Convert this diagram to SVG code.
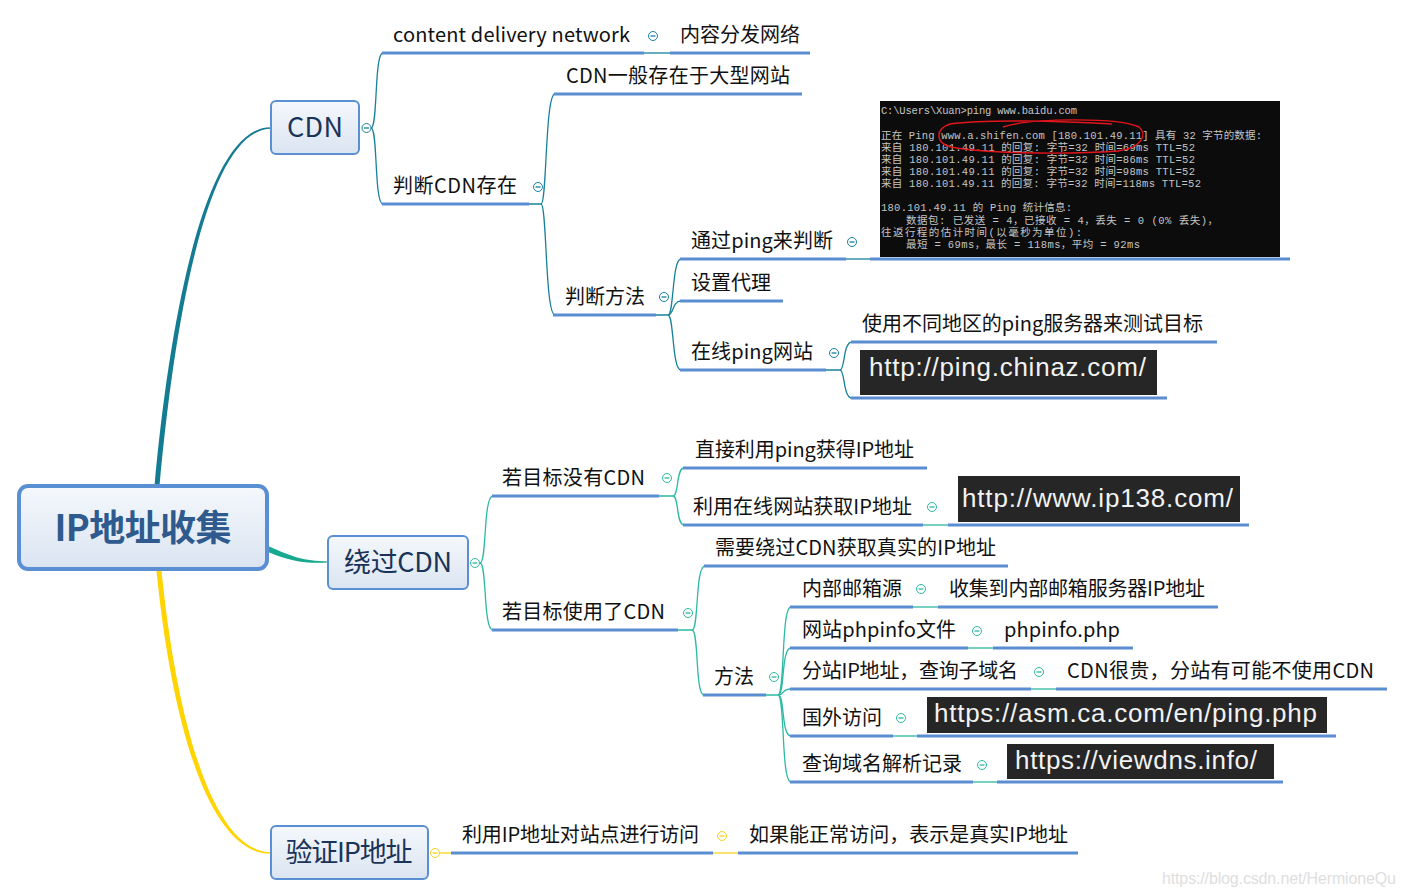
<svg xmlns="http://www.w3.org/2000/svg" width="1405" height="896" viewBox="0 0 1405 896">
<defs>
<linearGradient id="ng" x1="0" y1="0" x2="0" y2="1">
<stop offset="0" stop-color="#f5f8fc"/>
<stop offset="1" stop-color="#dae4f1"/>
</linearGradient>
<style>
.t{font-family:"Noto Sans CJK SC","Noto Sans",sans-serif;font-size:20px;fill:#111}
.n{font-family:"Noto Sans CJK SC","Noto Sans",sans-serif;font-size:27px;fill:#1a3358;text-anchor:middle}
.box{fill:url(#ng);stroke:#5b8fd4;stroke-width:2}
.u{stroke:#5a8dd2;stroke-width:3;fill:none}
.c1{stroke:#17819b;stroke-width:1.3;fill:none}
.c2{stroke:#2db9a3;stroke-width:1.3;fill:none}
.c3{stroke:#f7d31a;stroke-width:1.3;fill:none}
.k1{stroke:#17819b;stroke-width:1;fill:#fff}
.k2{stroke:#2db9a3;stroke-width:1;fill:#fff}
.k3{stroke:#f7d31a;stroke-width:1;fill:#fff}
.url{fill:#262626}
.ut{font-family:"Liberation Sans",Arial,sans-serif;font-size:26px;fill:#f2f2f2}
.con{font-family:"Liberation Mono","Noto Sans CJK SC",monospace;font-size:10.5px;fill:#c4c4c4}
</style>
</defs>
<rect width="1405" height="896" fill="#fff"/>

<g id="connectors">
<!-- main branches -->
<path d="M154.5,486 C169.5,320 205,126.6 271,127.3 L271,128.7 C207,129.6 174.5,321 159.5,486 Z" fill="#137c93"/>
<path d="M268,546 C293,557 303,561 328,561.4 L328,562.6 C302,563.5 290,561 268,552 Z" fill="#17a890"/>
<path d="M156.5,571 C171.5,721 208,854 271,853.7 L271,852.3 C212,851.5 176.5,719 161.5,571 Z" fill="#ffd400"/>
<!-- CDN subtree -->
<path class="c1" d="M371,128 C378,128 374,53 383,53"/>
<path class="c1" d="M371,128 C378,128 374,204 383,204"/>
<path class="c1" d="M644,53 H670"/>
<path class="c1" d="M529,204 H541 C547,204 545,94 555,94"/>
<path class="c1" d="M541,204 C547,204 545,315 555,315"/>
<path class="c1" d="M656,315 H668 C674,315 672,259 681,259"/>
<path class="c1" d="M668,315 C674,315 672,301 681,301"/>
<path class="c1" d="M668,315 C674,315 672,370 681,370"/>
<path class="c1" d="M846,259 H871"/>
<path class="c1" d="M826,370 H840 C845,370 843,342 852,342"/>
<path class="c1" d="M840,370 C845,370 843,398 852,398"/>
<!-- bypass CDN subtree -->
<path class="c2" d="M480,563 C487,563 483,496 493,496"/>
<path class="c2" d="M480,563 C487,563 483,630 493,630"/>
<path class="c2" d="M659,496 H673 C679,496 676,468 684,468"/>
<path class="c2" d="M673,496 C679,496 676,525 684,525"/>
<path class="c2" d="M923,525 H949"/>
<path class="c2" d="M678,630 H692 C699,630 695,566 705,566"/>
<path class="c2" d="M692,630 C699,630 695,695 704,695"/>
<path class="c2" d="M766,695 H778 C785,695 781,607 791,607"/>
<path class="c2" d="M778,695 C785,695 781,648 791,648"/>
<path class="c2" d="M778,695 C785,695 781,689 791,689"/>
<path class="c2" d="M778,695 C785,695 781,736 791,736"/>
<path class="c2" d="M778,695 C785,695 781,782 791,782"/>
<path class="c2" d="M913,607 H938"/>
<path class="c2" d="M968,648 H993"/>
<path class="c2" d="M1031,689 H1056"/>
<path class="c2" d="M893,736 H918"/>
<path class="c2" d="M973,782 H998"/>
<!-- verify subtree -->
<path class="c3" d="M440,853 H452"/>
<path class="c3" d="M713,853 H738"/>
</g>

<g id="root">
<rect x="19" y="486" width="248" height="83" rx="9" fill="url(#ng)" stroke="#5b8fd4" stroke-width="4"/>
<text x="143" y="541" font-family="'Noto Sans CJK SC','Noto Sans',sans-serif" font-size="36" font-weight="700" fill="#2f5a8e" text-anchor="middle" textLength="177">IP地址收集</text>
</g>

<g id="n-cdn">
<rect class="box" x="271" y="101" width="88" height="53" rx="5"/>
<text class="n" x="315" y="137" textLength="56">CDN</text>
<circle class="k1" cx="366.5" cy="128" r="4.5"/><path class="c1" d="M364,128 H369"/>
</g>
<g id="n-cdn-full">
<path class="u" d="M382,53 H644"/>
<text class="t" x="393" y="42" textLength="237">content delivery network</text>
<circle class="k1" cx="653" cy="36" r="4.5"/><path class="c1" d="M650.5,36 H655.5"/>
</g>
<g id="n-cdn-def">
<path class="u" d="M670,53 H810"/>
<text class="t" x="680" y="42">内容分发网络</text>
</g>
<g id="n-judge">
<path class="u" d="M382,204 H529"/>
<text class="t" x="393" y="193" textLength="124">判断CDN存在</text>
<circle class="k1" cx="538" cy="187" r="4.5"/><path class="c1" d="M535.5,187 H540.5"/>
</g>
<g id="n-large">
<path class="u" d="M554,94 H802"/>
<text class="t" x="566" y="83" textLength="224">CDN一般存在于大型网站</text>
</g>
<g id="n-method1">
<path class="u" d="M553,315 H656"/>
<text class="t" x="565" y="304">判断方法</text>
<circle class="k1" cx="664" cy="297" r="4.5"/><path class="c1" d="M661.5,297 H666.5"/>
</g>
<g id="n-ping">
<path class="u" d="M680,259 H846"/>
<text class="t" x="691" y="248" textLength="142">通过ping来判断</text>
<circle class="k1" cx="852" cy="242" r="4.5"/><path class="c1" d="M849.5,242 H854.5"/>
</g>
<g id="n-console">
<path class="u" d="M870,259 H1290"/>
<rect x="880" y="101" width="400" height="156" fill="#0c0c0c"/>
<text class="con" x="881" y="114" textLength="196">C:\Users\Xuan&gt;ping www.baidu.com</text>
<text class="con" x="881" y="138.5" textLength="381">正在 Ping www.a.shifen.com [180.101.49.11] 具有 32 字节的数据:</text>
<text class="con" x="881" y="150.5" textLength="314">来自 180.101.49.11 的回复: 字节=32 时间=69ms TTL=52</text>
<text class="con" x="881" y="162.5" textLength="314">来自 180.101.49.11 的回复: 字节=32 时间=86ms TTL=52</text>
<text class="con" x="881" y="174.5" textLength="314">来自 180.101.49.11 的回复: 字节=32 时间=98ms TTL=52</text>
<text class="con" x="881" y="186.5" textLength="320">来自 180.101.49.11 的回复: 字节=32 时间=118ms TTL=52</text>
<text class="con" x="881" y="211" textLength="191">180.101.49.11 的 Ping 统计信息:</text>
<text class="con" x="906" y="223.5" textLength="312">数据包: 已发送 = 4，已接收 = 4，丢失 = 0 (0% 丢失)，</text>
<text class="con" x="881" y="235.5" textLength="201">往返行程的估计时间(以毫秒为单位):</text>
<text class="con" x="906" y="248" textLength="234">最短 = 69ms，最长 = 118ms，平均 = 92ms</text>
<path d="M1003,127 C1030,118 1118,117 1139,127 C1148,135 1141,148 1118,151 C1060,155 982,153 951,147 C935,143 935,129 950,124 C985,119 1060,121 1112,124" fill="none" stroke="#e3141c" stroke-width="1.4"/>
</g>
<g id="n-proxy">
<path class="u" d="M680,301 H783"/>
<text class="t" x="691" y="290">设置代理</text>
</g>
<g id="n-online">
<path class="u" d="M680,370 H826"/>
<text class="t" x="691" y="359" textLength="122">在线ping网站</text>
<circle class="k1" cx="834" cy="353" r="4.5"/><path class="c1" d="M831.5,353 H836.5"/>
</g>
<g id="n-regions">
<path class="u" d="M851,342 H1217"/>
<text class="t" x="862" y="331" textLength="341">使用不同地区的ping服务器来测试目标</text>
</g>
<g id="n-chinaz">
<path class="u" d="M851,398 H1167"/>
<rect class="url" x="860" y="350" width="297" height="45"/>
<text class="ut" x="869" y="376" textLength="277">http://ping.chinaz.com/</text>
</g>

<g id="n-bypass">
<rect class="box" x="328" y="536" width="140" height="53" rx="5"/>
<text class="n" x="398" y="572" textLength="108">绕过CDN</text>
<circle class="k2" cx="475" cy="563" r="4.5"/><path class="c2" d="M472.5,563 H477.5"/>
</g>
<g id="n-nocdn">
<path class="u" d="M492,496 H659"/>
<text class="t" x="502" y="485" textLength="143">若目标没有CDN</text>
<circle class="k2" cx="667" cy="478" r="4.5"/><path class="c2" d="M664.5,478 H669.5"/>
</g>
<g id="n-direct">
<path class="u" d="M683,468 H927"/>
<text class="t" x="695" y="457" textLength="219">直接利用ping获得IP地址</text>
</g>
<g id="n-online2">
<path class="u" d="M683,525 H923"/>
<text class="t" x="693" y="514" textLength="219">利用在线网站获取IP地址</text>
<circle class="k2" cx="932" cy="507" r="4.5"/><path class="c2" d="M929.5,507 H934.5"/>
</g>
<g id="n-ip138">
<path class="u" d="M948,525 H1249"/>
<rect class="url" x="958" y="476" width="282" height="46"/>
<text class="ut" x="962" y="507" textLength="271">http://www.ip138.com/</text>
</g>
<g id="n-usecdn">
<path class="u" d="M492,630 H678"/>
<text class="t" x="502" y="619" textLength="163">若目标使用了CDN</text>
<circle class="k2" cx="688" cy="613" r="4.5"/><path class="c2" d="M685.5,613 H690.5"/>
</g>
<g id="n-need">
<path class="u" d="M704,566 H1008"/>
<text class="t" x="715" y="555" textLength="281">需要绕过CDN获取真实的IP地址</text>
</g>
<g id="n-method2">
<path class="u" d="M703,695 H766"/>
<text class="t" x="714" y="684">方法</text>
<circle class="k2" cx="774" cy="677" r="4.5"/><path class="c2" d="M771.5,677 H776.5"/>
</g>
<g id="n-mail">
<path class="u" d="M790,607 H913"/>
<text class="t" x="802" y="596">内部邮箱源</text>
<circle class="k2" cx="921" cy="589" r="4.5"/><path class="c2" d="M918.5,589 H923.5"/>
</g>
<g id="n-mail2">
<path class="u" d="M938,607 H1218"/>
<text class="t" x="949" y="596" textLength="256">收集到内部邮箱服务器IP地址</text>
</g>
<g id="n-phpinfo">
<path class="u" d="M790,648 H968"/>
<text class="t" x="802" y="637" textLength="154">网站phpinfo文件</text>
<circle class="k2" cx="977" cy="631" r="4.5"/><path class="c2" d="M974.5,631 H979.5"/>
</g>
<g id="n-phpinfo2">
<path class="u" d="M993,648 H1133"/>
<text class="t" x="1004" y="637" textLength="116">phpinfo.php</text>
</g>
<g id="n-sub">
<path class="u" d="M790,689 H1031"/>
<text class="t" x="802" y="678" textLength="216">分站IP地址，查询子域名</text>
<circle class="k2" cx="1039" cy="672" r="4.5"/><path class="c2" d="M1036.5,672 H1041.5"/>
</g>
<g id="n-sub2">
<path class="u" d="M1056,689 H1387"/>
<text class="t" x="1067" y="678" textLength="307">CDN很贵，分站有可能不使用CDN</text>
</g>
<g id="n-abroad">
<path class="u" d="M790,736 H893"/>
<text class="t" x="802" y="725">国外访问</text>
<circle class="k2" cx="901" cy="718" r="4.5"/><path class="c2" d="M898.5,718 H903.5"/>
</g>
<g id="n-asm">
<path class="u" d="M917,736 H1336"/>
<rect class="url" x="927" y="697" width="400" height="36"/>
<text class="ut" x="934" y="722" textLength="383">https://asm.ca.com/en/ping.php</text>
</g>
<g id="n-dns">
<path class="u" d="M790,782 H973"/>
<text class="t" x="802" y="771">查询域名解析记录</text>
<circle class="k2" cx="982" cy="765" r="4.5"/><path class="c2" d="M979.5,765 H984.5"/>
</g>
<g id="n-viewdns">
<path class="u" d="M997,782 H1283"/>
<rect class="url" x="1007" y="744" width="267" height="35"/>
<text class="ut" x="1015" y="769" textLength="242">https://viewdns.info/</text>
</g>

<g id="n-verify">
<rect class="box" x="271" y="826" width="157" height="53" rx="5"/>
<text class="n" x="349" y="862" textLength="127">验证IP地址</text>
<circle class="k3" cx="435" cy="853" r="4.5"/><path class="c3" d="M432.5,853 H437.5"/>
</g>
<g id="n-access">
<path class="u" d="M451,853 H713"/>
<text class="t" x="462" y="842" textLength="237">利用IP地址对站点进行访问</text>
<circle class="k3" cx="722" cy="836" r="4.5"/><path class="c3" d="M719.5,836 H724.5"/>
</g>
<g id="n-real">
<path class="u" d="M738,853 H1078"/>
<text class="t" x="749" y="842" textLength="319">如果能正常访问，表示是真实IP地址</text>
</g>

<text x="1162" y="884" font-family="'Liberation Sans',Arial,sans-serif" font-size="16" fill="#dedede" textLength="234">https://blog.csdn.net/HermioneQu</text>
</svg>
